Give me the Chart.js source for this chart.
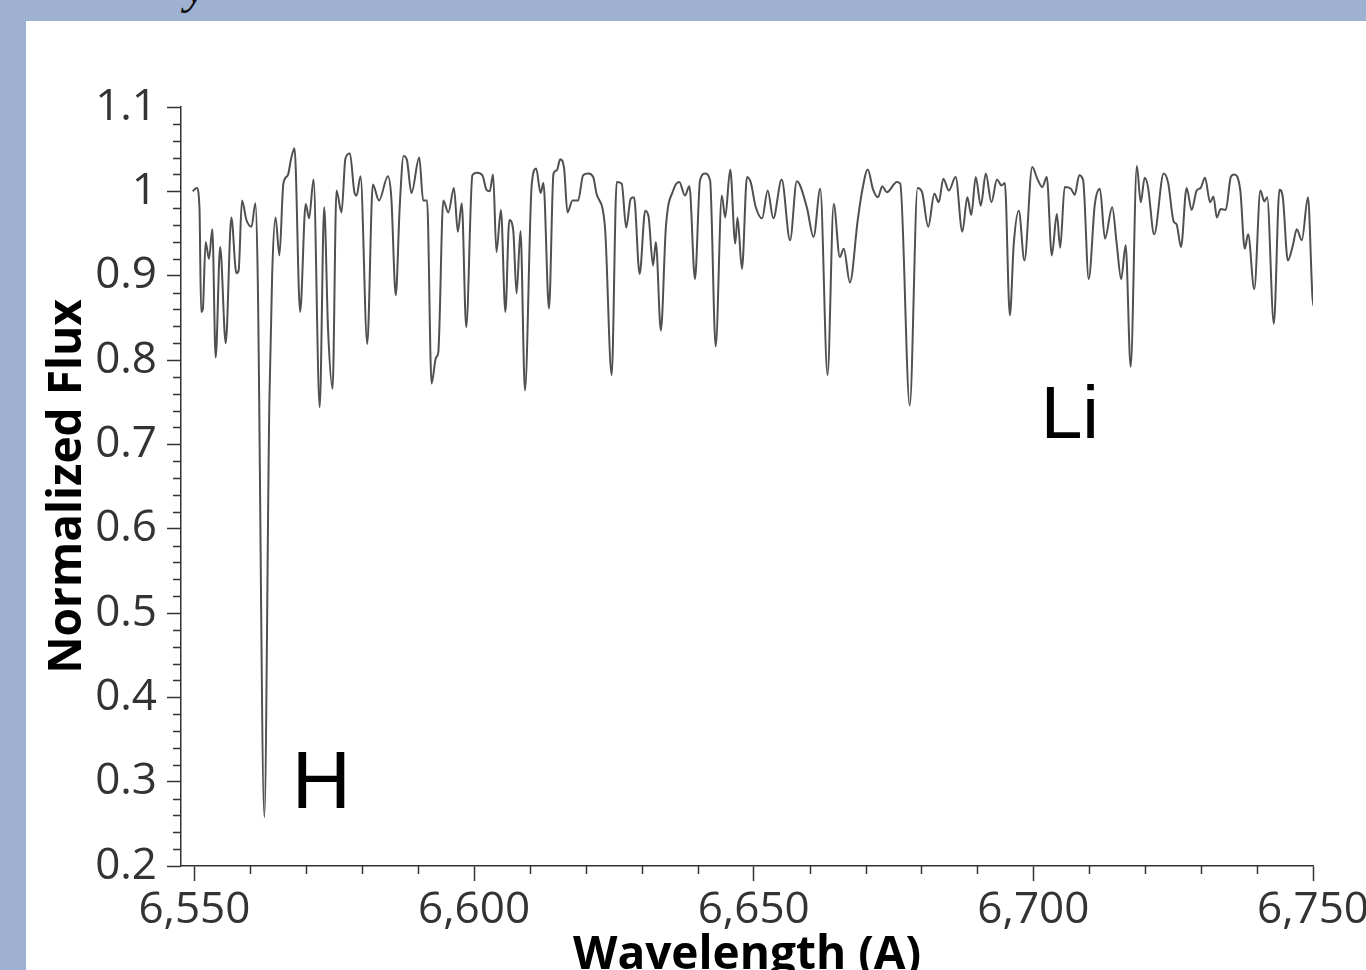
<!DOCTYPE html>
<html>
<head>
<meta charset="utf-8">
<script src="https://cdn.jsdelivr.net/npm/chart.js@4/dist/chart.umd.min.js"></script>
<style>
  html, body { margin:0; padding:0; }
  body { width:1366px; height:970px; background:#9fb1d1; overflow:hidden; position:relative; }
  #frag { position:absolute; left:185px; top:-37px; font:italic 48px "Liberation Serif", serif; line-height:48px; color:#111; }
  #panel { position:absolute; left:26px; top:21px; width:1340px; height:949px; background:#fff; overflow:hidden; }
  canvas { display:block; }
</style>
</head>
<body>
<div id="frag">y</div>
<div id="panel"><canvas id="c" width="1340" height="990"></canvas></div>
<script>
// ---- data ----
const wavelength = [
6549.7,6550.4,6550.9,6551.2,6551.5,6552.0,6552.6,6553.2,6553.8,6554.6,
6555.6,6556.6,6557.5,6557.9,6558.5,6559.3,6560.2,6560.9,6561.3,6562.5,
6563.4,6563.9,6564.5,6565.2,6565.9,6566.7,6567.3,6567.9,6568.9,6569.9,
6570.5,6571.3,6572.4,6573.2,6573.9,6574.7,6575.4,6576.3,6577.0,6577.8,
6578.6,6579.0,6579.7,6580.9,6581.9,6583.0,6584.6,6585.2,6586.0,6586.7,
6587.4,6588.0,6588.8,6590.2,6590.9,6591.6,6592.4,6593.2,6593.6,6594.5,
6595.4,6596.4,6597.1,6597.8,6598.6,6599.7,6600.5,6601.5,6602.2,6602.8,
6603.4,6604.0,6604.8,6605.6,6606.3,6607.0,6607.6,6608.3,6609.1,6610.3,
6611.1,6611.9,6612.4,6613.4,6614.2,6614.8,6615.4,6616.1,6616.7,6617.6,
6618.6,6619.5,6620.4,6621.3,6621.9,6623.4,6624.6,6625.5,6626.4,6627.2,
6628.0,6628.6,6629.6,6630.6,6631.2,6632.0,6632.5,6633.4,6634.3,6635.6,
6636.7,6637.7,6638.5,6639.5,6640.4,6641.3,6642.2,6643.2,6644.3,6644.9,
6645.8,6646.7,6647.1,6647.9,6648.8,6649.5,6650.3,6651.5,6652.5,6653.5,
6655.0,6656.5,6657.7,6659.5,6660.7,6661.9,6663.2,6664.3,6665.4,6666.1,
6667.2,6668.6,6669.4,6670.4,6671.3,6672.2,6673.0,6673.8,6675.6,6676.2,
6677.9,6679.3,6680.1,6681.2,6682.3,6683.1,6683.9,6684.9,6686.1,6687.3,
6688.2,6688.9,6689.7,6690.6,6691.5,6692.5,6693.5,6694.3,6694.9,6695.8,
6696.5,6697.4,6698.4,6699.8,6700.7,6701.6,6702.4,6703.3,6704.2,6704.8,
6705.6,6706.7,6707.4,6708.2,6708.9,6709.9,6711.0,6711.9,6712.8,6714.1,
6714.9,6715.7,6716.5,6717.4,6718.5,6719.2,6719.9,6720.5,6721.6,6723.3,
6724.1,6725.1,6725.6,6726.4,6727.4,6728.3,6729.2,6729.9,6730.7,6731.6,
6732.2,6732.8,6733.5,6734.4,6735.3,6735.9,6737.0,6737.8,6738.4,6739.5,
6740.6,6741.3,6741.8,6743.0,6744.0,6744.6,6745.5,6746.4,6747.1,6748.0,
6749.1,6749.9,6750.1
];
const flux = [
1.000,1.004,0.981,0.857,0.860,0.940,0.920,0.955,0.803,0.934,
0.820,0.969,0.903,0.906,0.989,0.966,0.958,0.986,0.906,0.258,
0.750,0.902,0.969,0.924,1.009,1.019,1.039,1.051,0.857,0.985,
0.968,1.014,0.744,0.981,0.835,0.766,1.001,0.975,1.039,1.045,
0.999,0.995,1.018,0.819,1.008,0.989,1.018,0.993,0.877,0.981,
1.042,1.037,0.998,1.040,0.989,0.989,0.772,0.803,0.809,0.989,
0.975,1.004,0.952,0.986,0.839,1.019,1.022,1.019,1.002,1.000,
1.020,0.928,0.978,0.857,0.966,0.954,0.879,0.953,0.764,1.007,
1.027,0.998,1.010,0.861,1.021,1.025,1.038,1.027,0.975,0.989,
0.989,1.019,1.021,1.017,0.997,0.958,0.782,1.011,1.009,0.957,
0.991,0.993,0.902,0.977,0.970,0.912,0.940,0.835,0.958,1.001,
1.011,0.995,1.006,0.896,1.013,1.021,1.013,0.816,0.995,0.969,
1.026,0.938,0.969,0.908,1.017,1.010,0.983,0.968,1.001,0.968,
1.014,0.942,1.012,0.981,0.946,1.003,0.782,0.985,0.922,0.932,
0.892,0.966,1.001,1.026,1.003,0.993,1.006,0.999,1.011,1.009,
0.746,1.004,0.999,0.958,0.997,0.987,1.015,1.001,1.017,0.952,
0.993,0.972,1.017,0.983,1.021,0.987,1.014,1.007,1.010,0.853,
0.938,0.977,0.918,1.029,1.015,1.005,1.017,0.924,0.973,0.933,
1.005,1.003,0.996,1.019,1.013,0.896,0.985,1.003,0.944,0.981,
0.938,0.896,0.936,0.792,1.030,0.987,1.016,1.005,0.949,1.021,
1.010,0.964,0.961,0.934,1.004,0.978,1.001,1.004,1.016,0.987,
0.994,0.969,0.979,0.978,1.017,1.020,1.001,0.932,0.949,0.884,
1.001,0.988,0.993,0.843,1.002,0.993,0.918,0.936,0.955,0.942,
0.993,0.875,0.864
];

// ---- tick values / labels ----
const xMajorTicks  = [6550, 6600, 6650, 6700, 6750];
const xMajorLabels = ['6,550', '6,600', '6,650', '6,700', '6,750'];
const xMinorTicks  = [6560,6570,6580,6590,6610,6620,6630,6640,6660,6670,6680,6690,6710,6720,6730,6740];
const yMajorTicks  = [0.2, 0.3, 0.4, 0.5, 0.6, 0.7, 0.8, 0.9, 1.0, 1.1];
const yMajorLabels = ['0.2','0.3','0.4','0.5','0.6','0.7','0.8','0.9','1','1.1'];
const yMinorTicks  = [0.22,0.24,0.26,0.28,0.32,0.34,0.36,0.38,0.42,0.44,0.46,0.48,
                      0.52,0.54,0.56,0.58,0.62,0.64,0.66,0.68,0.72,0.74,0.76,0.78,
                      0.82,0.84,0.86,0.88,0.92,0.94,0.96,0.98,1.02,1.04,1.06,1.08];

// ---- annotations (text placed at data coordinates) ----
const noteTexts = ['H', 'Li'];
const noteX     = [6567.4, 6701.3];
const noteY     = [0.269, 0.7075];
const noteSizes = [82, 75];

const AXIS = '#333333';
const TICKLAB = '#333333';

function isMajor(list, v) { return list.some(m => Math.abs(m - v) < 1e-6); }
function majorLabel(list, labels, v) {
  const i = list.findIndex(m => Math.abs(m - v) < 1e-6);
  return i >= 0 ? labels[i] : '';
}

const minorTickPlugin = {
  id: 'minorTicks',
  afterDraw(chart) {
    const { ctx, chartArea, scales } = chart;
    const x = scales.x, y = scales.y;
    ctx.save();
    ctx.strokeStyle = AXIS;
    ctx.lineWidth = 1.5;
    ctx.beginPath();
    xMinorTicks.forEach(v => {
      const px = Math.round(x.getPixelForValue(v)) + 0.5;
      ctx.moveTo(px, chartArea.bottom);
      ctx.lineTo(px, chartArea.bottom + 8);
    });
    yMinorTicks.forEach(v => {
      const py = Math.round(y.getPixelForValue(v)) + 0.5;
      ctx.moveTo(chartArea.left, py);
      ctx.lineTo(chartArea.left - 8, py);
    });
    ctx.stroke();
    ctx.fillStyle = '#000';
    ctx.textAlign = 'left';
    ctx.textBaseline = 'alphabetic';
    noteTexts.forEach((t, i) => {
      ctx.font = noteSizes[i] + 'px "Liberation Sans", Arial, sans-serif';
      ctx.fillText(t, x.getPixelForValue(noteX[i]), y.getPixelForValue(noteY[i]));
    });
    ctx.restore();
  }
};

const points = wavelength.map((w, i) => ({ x: w, y: flux[i] }));

new Chart(document.getElementById('c'), {
  type: 'scatter',
  data: {
    datasets: [{
      data: points,
      showLine: true,
      borderColor: '#505050',
      borderWidth: 2,
      pointRadius: 0,
      cubicInterpolationMode: 'monotone',
      fill: false
    }]
  },
  options: {
    responsive: false,
    animation: false,
    devicePixelRatio: 1,
    layout: { padding: { top: 86, right: 53, left: 0, bottom: 0 } },
    plugins: { legend: { display: false }, tooltip: { enabled: false } },
    scales: {
      x: {
        type: 'linear',
        min: 6547.6,
        max: 6750,
        afterBuildTicks: s => { s.ticks = [...xMajorTicks, ...xMinorTicks].sort((a,b)=>a-b).map(v => ({ value: v })); },
        afterFit: s => { s.height = 145; s.paddingLeft = 0; s.paddingRight = 0; },
        ticks: {
          autoSkip: false, maxRotation: 0, minRotation: 0,
          color: TICKLAB,
          padding: 3,
          font: { family: '"Open Sans", sans-serif', size: 44 },
          callback: v => majorLabel(xMajorTicks, xMajorLabels, v)
        },
        grid: {
          display: true, drawOnChartArea: false, drawTicks: true, tickLength: 15,
          tickWidth: 1.5,
          tickColor: ctx => (ctx.tick && isMajor(xMajorTicks, ctx.tick.value)) ? AXIS : 'rgba(0,0,0,0)'
        },
        border: { display: true, color: AXIS, width: 1.5 },
        title: {
          display: true, text: 'Wavelength (A)', color: '#000',
          font: { family: '"Open Sans", sans-serif', size: 46, weight: 'bold' },
          padding: { top: 0, bottom: 28 }
        }
      },
      y: {
        type: 'linear',
        min: 0.2,
        max: 1.1,
        afterBuildTicks: s => { s.ticks = [...yMajorTicks, ...yMinorTicks].sort((a,b)=>a-b).map(v => ({ value: v })); },
        afterFit: s => { s.width = 155; s.paddingTop = 0; s.paddingBottom = 0; },
        ticks: {
          autoSkip: false,
          color: TICKLAB,
          padding: 10,
          font: { family: '"Open Sans", sans-serif', size: 44 },
          callback: v => majorLabel(yMajorTicks, yMajorLabels, v)
        },
        grid: {
          display: true, drawOnChartArea: false, drawTicks: true, tickLength: 14,
          tickWidth: 1.5,
          tickColor: ctx => (ctx.tick && isMajor(yMajorTicks, ctx.tick.value)) ? AXIS : 'rgba(0,0,0,0)'
        },
        border: { display: true, color: AXIS, width: 1.5 },
        title: {
          display: true, text: 'Normalized Flux', color: '#000',
          font: { family: '"Open Sans", sans-serif', size: 46, weight: 'bold' },
          padding: { top: 14, bottom: 0 }
        }
      }
    }
  },
  plugins: [minorTickPlugin]
});
</script>
</body>
</html>
